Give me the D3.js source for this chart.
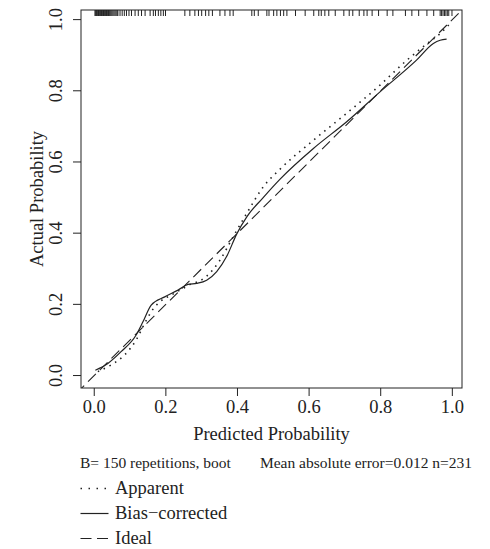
<!DOCTYPE html>
<html>
<head>
<meta charset="utf-8">
<script src="https://cdn.jsdelivr.net/npm/d3@7"></script>
<style>
  body { margin: 0; background: #fff; }
  text { font-family: "Liberation Serif", "DejaVu Serif", serif; fill: #222; }
</style>
</head>
<body>
<svg width="490" height="549"></svg>
<script>
// values
const ticks = [0, 0.2, 0.4, 0.6, 0.8, 1.0];

const apparentX = [0.01, 0.047, 0.085, 0.117, 0.141, 0.159, 0.183, 0.215, 0.25, 0.27, 0.295, 0.332, 0.351, 0.388, 0.426, 0.472, 0.519, 0.612, 0.705, 0.798, 0.873, 0.92, 0.966, 0.99];
const apparentY = [0.011, 0.03, 0.058, 0.1, 0.147, 0.179, 0.207, 0.226, 0.246, 0.257, 0.266, 0.298, 0.324, 0.39, 0.456, 0.53, 0.58, 0.661, 0.737, 0.816, 0.886, 0.925, 0.961, 0.985];

const biasX = [0.003, 0.038, 0.075, 0.117, 0.136, 0.159, 0.197, 0.234, 0.262, 0.286, 0.314, 0.342, 0.37, 0.398, 0.426, 0.47, 0.519, 0.612, 0.705, 0.798, 0.9, 0.947, 0.966, 0.984];
const biasY = [0.015, 0.034, 0.067, 0.114, 0.151, 0.198, 0.221, 0.24, 0.256, 0.259, 0.268, 0.292, 0.335, 0.398, 0.446, 0.498, 0.552, 0.638, 0.713, 0.797, 0.886, 0.933, 0.942, 0.945];

// predicted probabilities shown as the rug along the top
const rugX = [0.002, 0.004, 0.006, 0.008, 0.010, 0.012, 0.014, 0.016, 0.018, 0.020, 0.022, 0.024,
  0.026, 0.028, 0.030, 0.032, 0.034, 0.036, 0.038, 0.040, 0.043, 0.046, 0.049, 0.052, 0.055,
  0.058, 0.061, 0.064, 0.066, 0.072, 0.078, 0.084, 0.090, 0.097, 0.104, 0.114, 0.123, 0.132,
  0.142, 0.156, 0.165, 0.171, 0.179, 0.186, 0.193, 0.199, 0.253, 0.267, 0.281, 0.291, 0.300,
  0.311, 0.320, 0.330, 0.351, 0.365, 0.379, 0.388, 0.440, 0.447, 0.458, 0.482, 0.488, 0.501,
  0.510, 0.520, 0.529, 0.538, 0.562, 0.589, 0.613, 0.627, 0.634, 0.644, 0.655, 0.673, 0.697,
  0.712, 0.722, 0.740, 0.753, 0.762, 0.776, 0.794, 0.818, 0.834, 0.869, 0.887, 0.906, 0.929,
  0.948, 0.966, 0.970, 0.974, 0.978, 0.982, 0.986, 0.990, 0.999];

const svg = d3.select('svg');
const width = +svg.attr('width');
const height = +svg.attr('height');

const margin = { top: 10, right: 28, bottom: 161, left: 81 };
const w = width - margin.left - margin.right;
const h = height - margin.top - margin.bottom;

const x = d3.scaleLinear().domain([-0.037, 1.027]).range([0, w]);
const y = d3.scaleLinear().domain([-0.035, 1.027]).range([h, 0]);

const g = svg.append('g')
    .attr('transform', `translate(${margin.left}, ${margin.top})`);

g.append('clipPath').attr('id', 'clip')
  .append('rect').attr('width', w).attr('height', h);

const plot = g.append('g').attr('clip-path', 'url(#clip)');

// ideal line
plot.append('line')
    .attr('x1', x(-0.05)).attr('y1', y(-0.05))
    .attr('x2', x(1.05)).attr('y2', y(1.05))
    .attr('stroke', '#222').attr('stroke-width', 1.1)
    .attr('stroke-dasharray', '11,5.5');

const line = d3.line()
    .x(d => x(d[0]))
    .y(d => y(d[1]))
    .curve(d3.curveMonotoneX);

plot.append('path')
    .attr('d', line(d3.zip(apparentX, apparentY)))
    .attr('fill', 'none').attr('stroke', '#222').attr('stroke-width', 1.6)
    .attr('stroke-dasharray', '1.5,5');

plot.append('path')
    .attr('d', line(d3.zip(biasX, biasY)))
    .attr('fill', 'none').attr('stroke', '#222').attr('stroke-width', 1.2);

// rug
g.selectAll('.rug').data(rugX).join('line')
    .attr('x1', d => x(d)).attr('x2', d => x(d))
    .attr('y1', 0).attr('y2', 6)
    .attr('stroke', '#222').attr('stroke-width', 1);

// box
g.append('rect')
    .attr('width', w).attr('height', h)
    .attr('fill', 'none').attr('stroke', '#222').attr('stroke-width', 1);

// x axis
const xAxis = g.append('g').attr('transform', `translate(0, ${h})`);
xAxis.selectAll('line').data(ticks).join('line')
    .attr('x1', d => x(d)).attr('x2', d => x(d))
    .attr('y1', 0).attr('y2', 8)
    .attr('stroke', '#222');
xAxis.selectAll('text').data(ticks).join('text')
    .attr('x', d => x(d)).attr('y', 24.5)
    .attr('text-anchor', 'middle')
    .attr('font-size', 18.5)
    .text(d => d3.format('.1f')(d));

// y axis
const yAxis = g.append('g');
yAxis.selectAll('line').data(ticks).join('line')
    .attr('x1', 0).attr('x2', -8)
    .attr('y1', d => y(d)).attr('y2', d => y(d))
    .attr('stroke', '#222');
yAxis.selectAll('text').data(ticks).join('text')
    .attr('transform', d => `translate(-19, ${y(d)}) rotate(-90)`)
    .attr('text-anchor', 'middle')
    .attr('font-size', 18.5)
    .text(d => d3.format('.1f')(d));

// axis titles
svg.append('text')
    .attr('x', margin.left + w / 2).attr('y', 440)
    .attr('text-anchor', 'middle')
    .attr('font-size', 18.5)
    .text('Predicted Probability');

svg.append('text')
    .attr('transform', `translate(43, ${margin.top + h / 2}) rotate(-90)`)
    .attr('text-anchor', 'middle')
    .attr('font-size', 18.5)
    .text('Actual Probability');

// notes under the plot
svg.append('text')
    .attr('x', 80).attr('y', 468)
    .attr('font-size', 15.5)
    .text('B= 150 repetitions, boot');

svg.append('text')
    .attr('x', 472).attr('y', 468)
    .attr('text-anchor', 'end')
    .attr('font-size', 15.5)
    .text('Mean absolute error=0.012 n=231');

// legend
const legend = [
  { label: 'Apparent', dash: '1.5,6.5', width: 1.6 },
  { label: 'Bias\u2212corrected', dash: null, width: 1.2 },
  { label: 'Ideal', dash: '11,5.5', width: 1.1 }
];
const lg = svg.append('g').attr('transform', 'translate(80, 494)');
legend.forEach((d, i) => {
  const row = lg.append('g').attr('transform', `translate(0, ${i * 25})`);
  row.append('line')
      .attr('x1', 0.5).attr('x2', 28.5).attr('y1', -5.5).attr('y2', -5.5)
      .attr('stroke', '#222').attr('stroke-width', d.width)
      .attr('stroke-dasharray', d.dash);
  row.append('text')
      .attr('x', 35).attr('y', 0)
      .attr('font-size', 18.5)
      .text(d.label);
});
</script>
</body>
</html>
